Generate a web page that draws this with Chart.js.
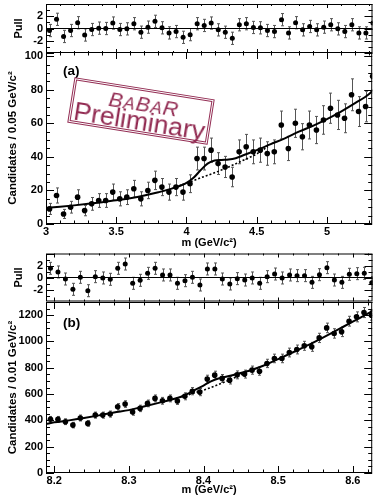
<!DOCTYPE html>
<html lang="en">
<head>
<meta charset="UTF-8">
<title>Candidates vs m, with pulls</title>
<script src="https://cdn.jsdelivr.net/npm/chart.js"></script>
<style>
  html, body { margin: 0; padding: 0; background: #fff; }
  #wrap { position: relative; width: 375px; height: 498px; overflow: hidden; background: #fff;
          font-family: 'Liberation Sans', Arial, Helvetica, sans-serif; }
  canvas { position: absolute; left: 0; }
  .tag { position: absolute; left: 63px; font-weight: bold; font-size: 13.5px; line-height: 14px; color: #000; }
  #stamp { position: absolute; left: 70px; top: 88px; width: 142px; height: 46px; box-sizing: border-box;
           border: 3px double #922b52; color: #922b52; transform: rotate(9deg); }
  #stamp .bb { position: absolute; left: 4px; right: 0; top: 2px; text-align: center; font-style: italic;
               font-size: 21px; line-height: 21px; letter-spacing: 1px; }
  #stamp .bb span { font-size: 17px; }
  #stamp .pre { position: absolute; left: -2px; right: -2px; top: 17px; text-align: center;
                font-size: 26.5px; line-height: 26px; }
</style>
</head>
<body>
<div id="wrap">
  <canvas id="mainA" width="375" height="212" style="top:40px"></canvas>
  <canvas id="pullA" width="375" height="73" style="top:-10px"></canvas>
  <canvas id="mainB" width="375" height="208" style="top:290px"></canvas>
  <canvas id="pullB" width="375" height="72" style="top:240px"></canvas>
  <div class="tag" style="top:64px">(a)</div>
  <div class="tag" style="top:316px">(b)</div>
  <div id="stamp"><div class="bb">B<span>A</span>B<span>A</span>R</div><div class="pre">Preliminary</div></div>
</div>

<script>
  const FONT = "'Liberation Sans', Arial, Helvetica, sans-serif";

  // ---- panel (a): 0.05 GeV bins ----
  const massA = [3.025, 3.075, 3.125, 3.175, 3.225, 3.275, 3.325, 3.375, 3.425, 3.475,
                 3.525, 3.575, 3.625, 3.675, 3.725, 3.775, 3.825, 3.875, 3.925, 3.975,
                 4.025, 4.075, 4.125, 4.175, 4.225, 4.275, 4.325, 4.375, 4.425, 4.475,
                 4.525, 4.575, 4.625, 4.675, 4.725, 4.775, 4.825, 4.875, 4.925, 4.975,
                 5.025, 5.075, 5.125, 5.175, 5.225, 5.275, 5.325];
  const candA = [9, 17, 6, 10, 16, 8, 12, 14, 14, 19, 15, 16, 21, 15, 20, 26, 22, 19, 22, 19,
                 24, 39, 39, 44, 36, 34, 28, 43, 46, 43, 44, 42, 43, 59, 45, 60, 52, 59, 56, 62,
                 69, 65, 63, 77, 67, 70, 88];
  const errA = [3.3, 4.5, 2.7, 3.5, 4.4, 3.1, 3.8, 4.1, 4.1, 4.8, 4.2, 4.4, 5, 4.2, 4.9, 5.5, 5.1, 4.8, 5.1, 4.8,
                5.3, 6.8, 6.8, 7.2, 6.5, 6.3, 5.8, 7.1, 7.4, 7.1, 7.2, 7, 7.1, 8.3, 7.2, 8.4, 7.8, 8.3, 8.1, 8.5,
                9, 8.7, 8.6, 9.5, 8.9, 9.1, 10.1];
  const pullA = [-0.33, 1.5, -1.3, -0.33, 0.94, -1.06, -0.17, 0.06, 0, 0.89, -0.17, -0.06, 0.78, -0.6, 0.22,
                 1.17, 0.11, -0.72, -0.5, -1.44, -1, 0.78, 0.5, 0.89, -0.22, -0.61, -1.6, 0.61, 0.78, 0.17,
                 0.11, -0.33, -0.5, 1.44, -0.72, 0.94, -0.22, 0.33, -0.22, 0.22, 0.61, -0.06, -0.5, 0.61,
                 -0.72, -0.72, 0.89];
  const fitAx = [3.0, 3.1, 3.2, 3.3, 3.4, 3.5, 3.6, 3.7, 3.8, 3.9, 4.0, 4.05, 4.1, 4.15, 4.2, 4.25, 4.3,
                 4.35, 4.4, 4.5, 4.6, 4.7, 4.8, 4.9, 5.0, 5.1, 5.2, 5.3, 5.33];
  const fitAy = [9.6, 10.3, 11.1, 12, 13, 14.1, 15.4, 17, 18.9, 21.2, 24.5, 27.5, 32, 36, 37.8, 38.2, 38.4,
                 39.2, 40.8, 44, 47.6, 51, 55, 58.5, 62.5, 67, 72, 77.5, 80];
  const bkgAx = [3.95, 4.0, 4.1, 4.2, 4.3, 4.4, 4.5, 4.58];
  const bkgAy = [22.8, 24.3, 27.5, 30.5, 34, 37.8, 41.8, 46.2];
  const xTicksA = [3, 3.5, 4, 4.5, 5];
  const yTicksA = [0, 20, 40, 60, 80, 100];

  // ---- panel (b): 0.01 GeV bins ----
  const massB = [8.195, 8.205, 8.215, 8.225, 8.235, 8.245, 8.255, 8.265, 8.275, 8.285,
                 8.295, 8.305, 8.315, 8.325, 8.335, 8.345, 8.355, 8.365, 8.375, 8.385,
                 8.395, 8.405, 8.415, 8.425, 8.435, 8.445, 8.455, 8.465, 8.475, 8.485,
                 8.495, 8.505, 8.515, 8.525, 8.535, 8.545, 8.555, 8.565, 8.575, 8.585,
                 8.595, 8.605, 8.615, 8.625];
  const candB = [408, 408, 390, 364, 418, 377, 440, 440, 448, 503, 524, 463, 491, 529, 567, 549, 567, 547,
                 583, 622, 615, 714, 744, 719, 706, 746, 752, 782, 774, 833, 871, 871, 916, 939, 967, 959,
                 1027, 1103, 1061, 1073, 1154, 1187, 1220, 1200];
  const errB = [22, 22, 22, 21, 22.5, 21, 23, 23, 23, 24.5, 25, 23.7, 24.4, 25.3, 26, 25.8, 26, 25.7, 26.6, 27.4,
                27.3, 29.4, 30, 29.5, 29.2, 30, 30.2, 30.8, 30.6, 31.7, 32.5, 32.5, 33.3, 33.7, 34.2, 34,
                35.3, 36.5, 35.8, 36, 37.4, 37.9, 38.4, 38.1];
  const pullB = [1.53, 0.92, -0.25, -1.97, 0.03, -2.2, 0.14, -0.08, -0.3, 1.53, 2.25, -0.97, -0.47, 0.69,
                 1.53, 0.42, 0.42, -0.97, -0.53, 0.03, -1.25, 1.42, 1.42, -0.25, -1.08, -0.19, -0.42, -0.08,
                 -0.97, 0.14, 0.58, -0.08, 0.42, 0.31, 0.31, -0.81, 0.47, 1.64, -0.42, -0.81, 0.53, 0.64,
                 0.69, -0.86];
  const fitBx = [8.189, 8.2, 8.22, 8.24, 8.26, 8.28, 8.3, 8.32, 8.34, 8.36, 8.37, 8.38, 8.39, 8.4, 8.41,
                 8.42, 8.43, 8.44, 8.46, 8.48, 8.5, 8.52, 8.54, 8.56, 8.58, 8.6, 8.62, 8.627];
  const fitBy = [372, 385, 400, 418, 438, 460, 478, 505, 533, 562, 580, 605, 635, 665, 696,
                 718, 731, 745, 775, 815, 866, 918, 972, 1030, 1090, 1150, 1212, 1235];
  const bkgBx = [8.37, 8.38, 8.39, 8.4, 8.41, 8.42, 8.43, 8.44, 8.45, 8.46];
  const bkgBy = [580, 595, 612, 630, 650, 672, 696, 720, 745, 771];
  const xTicksB = [8.2, 8.3, 8.4, 8.5, 8.6];
  const yTicksB = [0, 200, 400, 600, 800, 1000, 1200];

  const pullTicks = [-2, 0, 2];

  function pts(xs, ys) { return xs.map((x, i) => ({ x: x, y: ys[i] })); }

  function pointSet(xs, ys, r) {
    return { data: pts(xs, ys), showLine: false, pointRadius: r, pointBackgroundColor: '#000',
             pointBorderWidth: 0, pointHoverRadius: r };
  }
  function curveSet(xs, ys, w, dash) {
    return { data: pts(xs, ys), showLine: true, borderColor: '#000', borderWidth: w, borderDash: dash || [],
             pointRadius: 0, cubicInterpolationMode: 'monotone', fill: false };
  }

  function yAxis(min, max, ticks, title, titleSize, titlePad) {
    return {
      position: 'left', min: min, max: max,
      grid: { display: false, drawTicks: false }, border: { display: false },
      afterBuildTicks: s => { s.ticks = ticks.map(v => ({ value: v })); },
      afterFit: s => { s.width = 46; },
      ticks: { padding: 3, autoSkip: false, color: '#000', callback: v => String(v),
               font: { family: FONT, size: 11, weight: 'bold' } },
      title: { display: true, text: title, color: '#000', padding: { top: titlePad, bottom: 0 },
               font: { family: FONT, size: titleSize, weight: 'bold' } }
    };
  }
  function xAxis(min, max, ticks, height, titlePad) {
    return {
      type: 'linear', position: 'bottom', min: min, max: max,
      grid: { display: false, drawTicks: false }, border: { display: false },
      afterBuildTicks: s => { s.ticks = ticks.map(v => ({ value: v })); },
      afterFit: s => { s.height = height; },
      ticks: { padding: 1, autoSkip: false, maxRotation: 0, color: '#000', callback: v => String(v),
               font: { family: FONT, size: 11, weight: 'bold' } },
      title: { display: true, text: 'm (GeV/c²)', color: '#000', padding: { top: 0, bottom: titlePad },
               font: { family: FONT, size: 11, weight: 'bold' } }
    };
  }

  // error bars, drawn under the markers
  function errorBars(errs) {
    return {
      id: 'errbars',
      beforeDatasetsDraw(chart) {
        const { ctx, chartArea: a, scales: { x, y } } = chart;
        const data = chart.data.datasets[0].data;
        ctx.save();
        ctx.beginPath();
        ctx.rect(a.left, a.top, a.right - a.left, a.bottom - a.top);
        ctx.clip();
        ctx.strokeStyle = '#555';
        ctx.lineWidth = 1;
        ctx.beginPath();
        data.forEach((p, i) => {
          const px = Math.round(x.getPixelForValue(p.x)) + 0.5;
          const y1 = y.getPixelForValue(p.y + errs[i]);
          const y2 = y.getPixelForValue(p.y - errs[i]);
          ctx.moveTo(px, y1); ctx.lineTo(px, y2);
          ctx.moveTo(px - 1.5, y1); ctx.lineTo(px + 1.5, y1);
          ctx.moveTo(px - 1.5, y2); ctx.lineTo(px + 1.5, y2);
        });
        ctx.stroke();
        ctx.restore();
      }
    };
  }

  // ROOT-like frame with ticks pointing inwards on all four sides
  function frame(t) {
    return {
      id: 'frame',
      afterDatasetsDraw(chart) {
        const { ctx, chartArea: a, scales: { x, y } } = chart;
        ctx.save();
        ctx.strokeStyle = '#000';
        ctx.lineWidth = 1;
        ctx.strokeRect(a.left + 0.5, a.top + 0.5, a.right - a.left - 1, a.bottom - a.top - 1);
        ctx.beginPath();
        for (let k = 0; k < 200; k++) {
          const v = t.x0 + k * t.xStep;
          if (v > x.max + 1e-9) break;
          if (v < x.min) continue;
          const px = Math.round(x.getPixelForValue(v)) + 0.5;
          const len = k % t.xEvery === 0 ? t.xLen : t.xLen / 2;
          ctx.moveTo(px, a.bottom); ctx.lineTo(px, a.bottom - len);
          ctx.moveTo(px, a.top); ctx.lineTo(px, a.top + len);
        }
        for (let k = 0; k < 200; k++) {
          const v = t.y0 + k * t.yStep;
          if (v > y.max + 1e-9) break;
          if (v < y.min) continue;
          const py = Math.round(y.getPixelForValue(v)) + 0.5;
          const len = k % t.yEvery === 0 ? t.yLen : t.yLen / 2;
          ctx.moveTo(a.left, py); ctx.lineTo(a.left + len, py);
          ctx.moveTo(a.right, py); ctx.lineTo(a.right - len, py);
        }
        ctx.stroke();
        ctx.restore();
      }
    };
  }

  function makeChart(id, cfg) {
    return new Chart(document.getElementById(id), {
      type: 'scatter',
      data: { datasets: cfg.datasets },
      options: {
        responsive: false, animation: false, devicePixelRatio: 1,
        layout: { padding: cfg.padding },
        plugins: { legend: { display: false }, tooltip: { enabled: false } },
        scales: { x: cfg.x, y: cfg.y }
      },
      plugins: [errorBars(cfg.err), frame(cfg.ticks)]
    });
  }

  const A_MIN = 3, A_MAX = 5.322, B_MIN = 8.189, B_MAX = 8.626;

  makeChart('pullA', {
    datasets: [pointSet(massA, pullA, 2.5), curveSet([A_MIN, A_MAX], [0, 0], 1)],
    err: pullA.map(() => 1),
    padding: { top: 14, bottom: 10, left: 0, right: 1 },
    x: { type: 'linear', min: A_MIN, max: A_MAX, display: false },
    y: yAxis(-4, 4, pullTicks, 'Pull', 11, 12),
    ticks: { x0: 3, xStep: 0.1, xEvery: 5, xLen: 4, y0: -4, yStep: 1, yEvery: 2, yLen: 8 }
  });

  makeChart('mainA', {
    datasets: [pointSet(massA, candA, 2.8), curveSet(fitAx, fitAy, 2), curveSet(bkgAx, bkgAy, 1.6, [2, 2])],
    err: errA,
    padding: { top: 12, bottom: 0, left: 0, right: 1 },
    x: xAxis(A_MIN, A_MAX, xTicksA, 28, 2.4),
    y: yAxis(0, 102.5, yTicksA, 'Candidates / 0.05 GeV/c²', 11.5, 6),
    ticks: { x0: 3, xStep: 0.1, xEvery: 5, xLen: 7, y0: 0, yStep: 5, yEvery: 4, yLen: 8 }
  });

  makeChart('pullB', {
    datasets: [pointSet(massB, pullB, 2.5), curveSet([B_MIN, B_MAX], [0, 0], 1)],
    err: pullB.map(() => 1),
    padding: { top: 13.5, bottom: 10.5, left: 0, right: 1 },
    x: { type: 'linear', min: B_MIN, max: B_MAX, display: false },
    y: yAxis(-4, 4, pullTicks, 'Pull', 11, 12),
    ticks: { x0: 8.2, xStep: 0.02, xEvery: 5, xLen: 4, y0: -4, yStep: 1, yEvery: 2, yLen: 8 }
  });

  makeChart('mainB', {
    datasets: [pointSet(massB, candB, 2.8), curveSet(fitBx, fitBy, 2), curveSet(bkgBx, bkgBy, 1.6, [2, 2])],
    err: errB,
    padding: { top: 12, bottom: 0, left: 0, right: 1 },
    x: xAxis(B_MIN, B_MAX, xTicksB, 25, 1.4),
    y: yAxis(0, 1300, yTicksB, 'Candidates / 0.01 GeV/c²', 11.5, 6),
    ticks: { x0: 8.2, xStep: 0.02, xEvery: 5, xLen: 7, y0: 0, yStep: 50, yEvery: 4, yLen: 8 }
  });
</script>
</body>
</html>
